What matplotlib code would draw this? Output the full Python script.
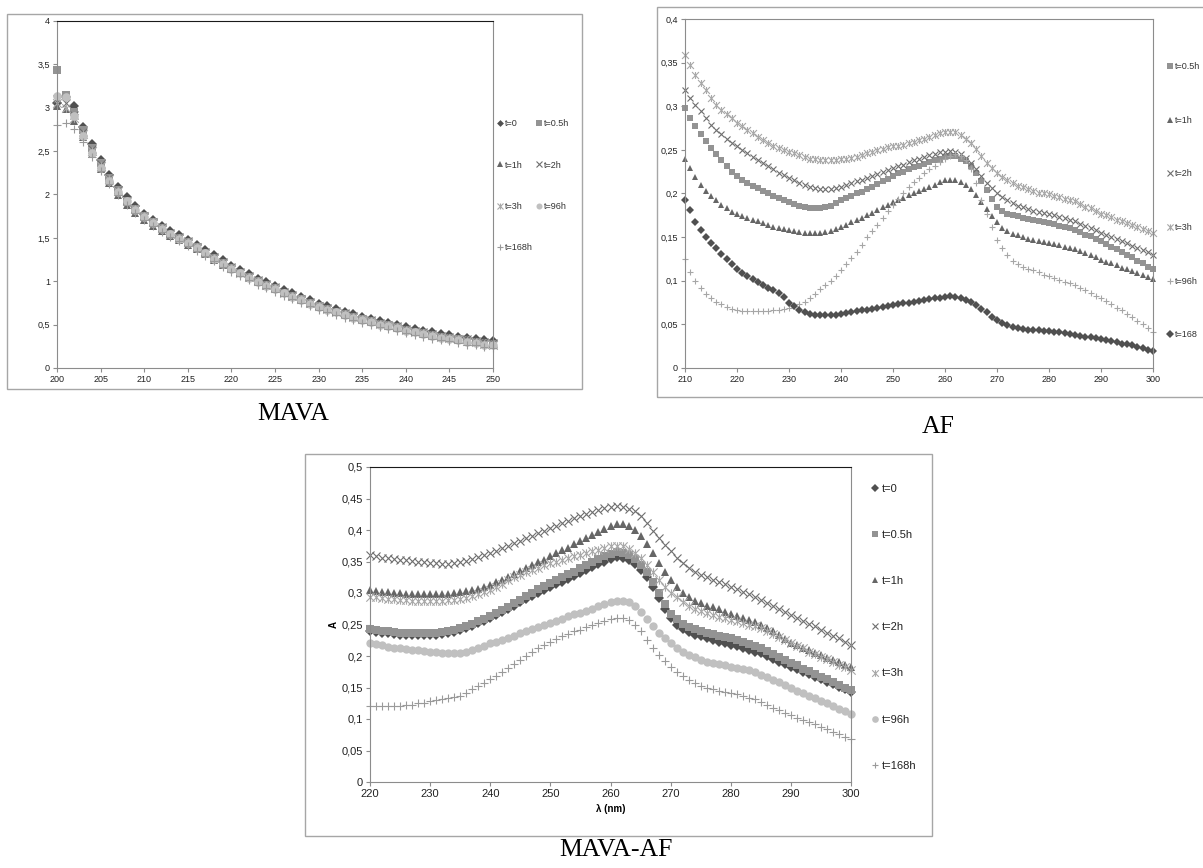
import numpy as np
import matplotlib
matplotlib.use("Agg")
import matplotlib.pyplot as plt
from matplotlib.path import Path
from matplotlib.patches import Rectangle
from matplotlib.ticker import FuncFormatter, MultipleLocator

# ---------------- data: MAVA (200-250 nm, 1 nm step) ----------------
mava_wl = np.arange(200, 251)
mava = {
    "t=0": [3.05, 3.12, 3.02, 2.78, 2.58, 2.40, 2.23, 2.09, 1.97, 1.87,
            1.78, 1.71, 1.64, 1.58, 1.53, 1.48, 1.42, 1.36, 1.30, 1.24,
            1.18, 1.13, 1.08, 1.03, 0.99, 0.95, 0.90, 0.86, 0.82, 0.78,
            0.74, 0.71, 0.68, 0.65, 0.62, 0.59, 0.57, 0.54, 0.52, 0.50,
            0.47, 0.45, 0.43, 0.41, 0.39, 0.38, 0.36, 0.35, 0.33, 0.32, 0.31],
    "t=0.5h": [3.44, 3.15, 2.95, 2.74, 2.54, 2.36, 2.19, 2.05, 1.93, 1.83,
               1.75, 1.68, 1.61, 1.55, 1.50, 1.45, 1.39, 1.33, 1.27, 1.21,
               1.15, 1.10, 1.05, 1.00, 0.96, 0.92, 0.87, 0.83, 0.79, 0.75,
               0.71, 0.68, 0.65, 0.62, 0.59, 0.56, 0.54, 0.51, 0.49, 0.47,
               0.44, 0.42, 0.40, 0.38, 0.36, 0.35, 0.33, 0.32, 0.30, 0.29, 0.28],
    "t=1h": [3.02, 2.98, 2.85, 2.66, 2.47, 2.29, 2.13, 1.99, 1.88, 1.79,
             1.71, 1.64, 1.58, 1.52, 1.47, 1.42, 1.37, 1.31, 1.25, 1.19,
             1.14, 1.09, 1.04, 0.99, 0.95, 0.91, 0.86, 0.82, 0.78, 0.74,
             0.71, 0.68, 0.65, 0.62, 0.59, 0.56, 0.54, 0.52, 0.49, 0.47,
             0.45, 0.43, 0.41, 0.39, 0.37, 0.36, 0.34, 0.33, 0.31, 0.30, 0.29],
    "t=2h": [3.10, 3.05, 2.92, 2.72, 2.52, 2.35, 2.19, 2.05, 1.93, 1.83,
             1.75, 1.68, 1.62, 1.56, 1.51, 1.46, 1.40, 1.34, 1.28, 1.22,
             1.16, 1.11, 1.06, 1.01, 0.97, 0.93, 0.88, 0.84, 0.80, 0.76,
             0.72, 0.69, 0.66, 0.63, 0.60, 0.57, 0.55, 0.52, 0.50, 0.48,
             0.45, 0.43, 0.41, 0.39, 0.37, 0.36, 0.34, 0.33, 0.31, 0.30, 0.29],
    "t=3h": [3.05, 3.00, 2.88, 2.70, 2.50, 2.33, 2.18, 2.04, 1.93, 1.83,
             1.75, 1.68, 1.61, 1.55, 1.50, 1.45, 1.39, 1.33, 1.27, 1.21,
             1.15, 1.10, 1.05, 1.00, 0.96, 0.92, 0.87, 0.83, 0.79, 0.75,
             0.71, 0.68, 0.65, 0.62, 0.59, 0.56, 0.54, 0.51, 0.49, 0.47,
             0.44, 0.42, 0.40, 0.38, 0.36, 0.35, 0.33, 0.31, 0.30, 0.28, 0.27],
    "t=96h": [3.14, 3.12, 2.90, 2.68, 2.48, 2.31, 2.16, 2.03, 1.92, 1.82,
              1.74, 1.67, 1.60, 1.54, 1.49, 1.44, 1.38, 1.32, 1.26, 1.20,
              1.14, 1.09, 1.04, 0.99, 0.95, 0.91, 0.86, 0.82, 0.78, 0.74,
              0.70, 0.67, 0.64, 0.61, 0.58, 0.55, 0.53, 0.50, 0.48, 0.46,
              0.43, 0.41, 0.39, 0.37, 0.35, 0.34, 0.32, 0.30, 0.29, 0.27, 0.26],
    "t=168h": [2.80, 2.82, 2.75, 2.60, 2.43, 2.27, 2.12, 1.99, 1.88, 1.79,
               1.71, 1.64, 1.57, 1.51, 1.46, 1.41, 1.35, 1.29, 1.23, 1.17,
               1.11, 1.06, 1.01, 0.96, 0.92, 0.88, 0.83, 0.79, 0.75, 0.71,
               0.67, 0.64, 0.61, 0.58, 0.55, 0.52, 0.50, 0.47, 0.45, 0.43,
               0.40, 0.38, 0.36, 0.34, 0.32, 0.31, 0.29, 0.27, 0.26, 0.24, 0.23],
}

# ---------------- data: AF (210-300 nm, 1 nm step) ----------------
af_wl = np.arange(210, 301)
af = {
    "t=0.5h": [.298, .287, .277, .268, .260, .252, .245, .238, .231, .225,
               .220, .216, .212, .209, .206, .203, .200, .197, .195, .192,
               .190, .188, .186, .184, .183, .183, .183, .184, .186, .189,
               .192, .195, .197, .200, .202, .205, .208, .211, .214, .217,
               .220, .223, .225, .228, .230, .232, .234, .236, .238, .240,
               .242, .243, .243, .240, .237, .232, .224, .214, .204, .194,
               .185, .180, .177, .175, .174, .172, .171, .170, .168, .167,
               .166, .165, .163, .162, .160, .158, .156, .153, .151, .148,
               .145, .142, .139, .136, .133, .130, .127, .123, .120, .116, .113],
    "t=1h": [.240, .229, .219, .210, .203, .197, .192, .187, .183, .179,
             .176, .174, .172, .170, .168, .166, .164, .162, .161, .159,
             .158, .157, .156, .155, .155, .155, .155, .156, .157, .159,
             .162, .164, .167, .170, .172, .175, .178, .181, .184, .187,
             .190, .193, .195, .198, .200, .203, .205, .208, .210, .213,
             .215, .216, .216, .213, .210, .205, .198, .190, .182, .174,
             .167, .161, .157, .154, .152, .150, .148, .147, .145, .144,
             .143, .142, .141, .139, .138, .136, .134, .132, .130, .127,
             .124, .122, .120, .118, .115, .113, .111, .109, .107, .104, .102],
    "t=2h": [.319, .310, .301, .294, .286, .279, .273, .268, .263, .258,
             .254, .250, .246, .242, .238, .235, .231, .228, .224, .221,
             .218, .215, .212, .210, .208, .206, .205, .205, .205, .206,
             .208, .210, .212, .214, .216, .218, .220, .222, .225, .227,
             .229, .231, .233, .236, .238, .240, .242, .244, .245, .247,
             .248, .249, .248, .245, .241, .235, .228, .220, .212, .206,
             .200, .196, .192, .189, .186, .184, .182, .180, .179, .178,
             .177, .175, .173, .172, .170, .168, .165, .163, .160, .158,
             .155, .153, .150, .148, .145, .143, .140, .138, .135, .133, .130],
    "t=3h": [.359, .347, .336, .327, .319, .310, .302, .296, .291, .286,
             .281, .277, .273, .269, .265, .261, .258, .255, .252, .250,
             .248, .246, .244, .242, .240, .239, .238, .238, .238, .238,
             .239, .240, .241, .242, .244, .246, .248, .250, .251, .253,
             .254, .255, .256, .258, .259, .261, .263, .265, .267, .269,
             .271, .271, .270, .267, .263, .258, .251, .243, .235, .229,
             .223, .219, .215, .212, .209, .207, .205, .203, .201, .200,
             .199, .197, .196, .194, .193, .191, .188, .185, .183, .180,
             .177, .175, .173, .170, .168, .166, .164, .162, .159, .157, .155],
    "t=96h": [.125, .110, .100, .092, .085, .080, .076, .073, .070, .068,
              .066, .065, .065, .065, .065, .065, .065, .066, .067, .068,
              .069, .071, .073, .076, .080, .085, .090, .095, .100, .106,
              .112, .119, .126, .133, .141, .150, .157, .164, .172, .180,
              .187, .194, .201, .207, .213, .218, .223, .228, .232, .236,
              .240, .243, .245, .243, .238, .228, .212, .193, .177, .162,
              .147, .137, .129, .123, .119, .116, .114, .112, .110, .107,
              .105, .103, .101, .099, .097, .095, .092, .089, .086, .083,
              .080, .077, .073, .069, .066, .062, .058, .054, .050, .046, .041],
    "t=168": [.193, .181, .167, .158, .150, .143, .137, .131, .125, .119,
              .113, .109, .106, .102, .098, .095, .092, .089, .086, .081,
              .075, .071, .067, .064, .062, .061, .061, .061, .061, .061,
              .062, .063, .064, .065, .066, .067, .068, .069, .070, .071,
              .072, .073, .074, .075, .076, .077, .078, .079, .080, .080,
              .081, .082, .081, .080, .078, .076, .072, .068, .064, .059,
              .055, .052, .049, .047, .046, .045, .044, .043, .043, .042,
              .042, .041, .041, .040, .039, .038, .037, .036, .035, .034,
              .033, .032, .031, .030, .028, .027, .026, .024, .023, .021, .020],
}

# ---------------- data: MAVA-AF (220-300 nm, 1 nm step) ----------------
mix_wl = np.arange(220, 301)
mix = {
    "t=0": [.240, .238, .237, .236, .235, .234, .234, .234, .234, .234,
            .234, .234, .235, .236, .238, .241, .244, .248, .252, .256,
            .260, .265, .270, .275, .280, .285, .290, .295, .300, .305,
            .310, .314, .318, .323, .327, .331, .336, .341, .346, .350,
            .354, .357, .356, .352, .346, .337, .325, .310, .292, .275,
            .260, .250, .243, .238, .234, .231, .228, .225, .222, .220,
            .218, .216, .213, .210, .207, .204, .200, .196, .191, .187,
            .183, .179, .175, .171, .167, .163, .159, .155, .151, .147, .143],
    "t=0.5h": [.243, .241, .240, .239, .238, .237, .237, .237, .237, .237,
               .237, .237, .238, .239, .241, .244, .247, .251, .255, .259,
               .263, .268, .273, .278, .284, .289, .295, .300, .306, .311,
               .316, .321, .325, .330, .334, .339, .344, .349, .354, .358,
               .362, .365, .364, .360, .354, .345, .333, .318, .300, .282,
               .267, .258, .251, .246, .243, .240, .237, .235, .232, .230,
               .228, .225, .222, .219, .216, .212, .208, .203, .198, .194,
               .189, .185, .180, .176, .172, .167, .163, .159, .154, .150, .146],
    "t=1h": [.304, .303, .302, .301, .300, .300, .299, .299, .298, .298,
             .298, .298, .298, .299, .300, .301, .303, .305, .307, .310,
             .313, .317, .321, .326, .330, .335, .340, .344, .349, .353,
             .358, .363, .368, .372, .377, .382, .387, .392, .397, .402,
             .406, .409, .409, .406, .400, .390, .378, .363, .348, .334,
             .321, .310, .300, .293, .288, .284, .280, .277, .274, .270,
             .266, .263, .260, .257, .254, .250, .245, .239, .233, .227,
             .221, .217, .213, .209, .205, .201, .197, .194, .190, .186, .182],
    "t=2h": [.360, .358, .356, .355, .354, .353, .352, .351, .350, .349,
             .348, .347, .346, .346, .347, .349, .351, .354, .357, .360,
             .363, .367, .371, .375, .379, .383, .387, .391, .395, .399,
             .403, .407, .411, .415, .419, .423, .426, .429, .432, .435,
             .437, .438, .437, .434, .430, .422, .411, .399, .387, .376,
             .366, .356, .347, .340, .334, .329, .325, .321, .317, .314,
             .310, .306, .302, .298, .294, .289, .284, .279, .275, .270,
             .265, .260, .256, .251, .247, .242, .237, .232, .228, .223, .218],
    "t=3h": [.294, .293, .292, .291, .290, .289, .289, .288, .288, .288,
             .288, .288, .288, .289, .289, .290, .292, .295, .298, .301,
             .305, .310, .315, .320, .325, .329, .333, .337, .340, .344,
             .347, .350, .353, .356, .359, .361, .364, .367, .369, .372,
             .374, .375, .374, .370, .363, .355, .344, .333, .321, .310,
             .300, .293, .286, .279, .275, .271, .268, .265, .262, .260,
             .257, .255, .252, .250, .247, .244, .240, .235, .230, .225,
             .220, .216, .212, .207, .203, .199, .195, .191, .186, .182, .178],
    "t=96h": [.221, .219, .217, .215, .213, .212, .211, .210, .209, .208,
              .207, .206, .205, .204, .204, .205, .207, .210, .213, .216,
              .220, .223, .226, .229, .232, .236, .239, .243, .246, .250,
              .253, .256, .259, .263, .266, .269, .272, .275, .279, .282,
              .285, .287, .287, .285, .279, .270, .259, .247, .236, .228,
              .220, .213, .207, .202, .198, .194, .191, .189, .187, .185,
              .183, .181, .179, .177, .174, .170, .166, .162, .158, .154,
              .149, .145, .141, .137, .133, .129, .125, .120, .116, .112, .108],
    "t=168h": [.120, .120, .120, .120, .120, .121, .122, .123, .125, .126,
               .128, .130, .131, .133, .135, .137, .142, .147, .152, .157,
               .163, .169, .175, .181, .188, .194, .200, .206, .212, .218,
               .223, .227, .231, .235, .239, .242, .246, .249, .252, .255,
               .258, .260, .260, .257, .250, .239, .226, .213, .202, .192,
               .183, .175, .168, .162, .157, .153, .150, .147, .145, .143,
               .141, .139, .137, .134, .131, .127, .123, .118, .114, .110,
               .106, .102, .099, .095, .092, .088, .084, .080, .076, .072, .068],
}

# excel-like "star" marker: an x with a vertical bar
star = Path([(-1, -1), (1, 1), (-1, 1), (1, -1), (0, -1), (0, 1)],
            [Path.MOVETO, Path.LINETO] * 3)

styles = {
    "t=0": dict(marker="D", color="#505050"),
    "t=0.5h": dict(marker="s", color="#939393"),
    "t=1h": dict(marker="^", color="#666666"),
    "t=2h": dict(marker="x", color="#6e6e6e"),
    "t=3h": dict(marker=star, color="#a8a8a8"),
    "t=96h": dict(marker="o", color="#c0c0c0"),
    "t=168h": dict(marker="+", color="#9a9a9a"),
}
styles["t=168"] = dict(marker="D", color="#505050")
af_styles = dict(styles)
af_styles["t=96h"] = dict(marker="+", color="#a6a6a6")

W, H = 1203, 868
fig = plt.figure(figsize=(W / 100, H / 100), dpi=100)
fig.patch.set_facecolor("white")
plt.rcParams["font.family"] = ["Liberation Sans", "DejaVu Sans"]


def px_axes(x0, y0, x1, y1):
    return fig.add_axes([x0 / W, 1 - y1 / H, (x1 - x0) / W, (y1 - y0) / H])


def frame(x0, y0, x1, y1):
    fig.patches.append(Rectangle((x0 / W, 1 - y1 / H), (x1 - x0) / W, (y1 - y0) / H,
                                 transform=fig.transFigure, fill=False,
                                 edgecolor="#a6a6a6", lw=1.0))


comma = FuncFormatter(lambda v, p: f"{v:g}".replace(".", ","))


def style_axes(ax, fs, top_col="#1a1a1a"):
    for s in ["left", "bottom", "right"]:
        ax.spines[s].set_color("#8c8c8c")
    ax.spines["top"].set_color(top_col)
    ax.tick_params(direction="out", length=3, width=0.8, color="#8c8c8c",
                   labelsize=fs, labelcolor="#222222", pad=2)
    ax.yaxis.set_major_formatter(comma)


def draw(ax, wl, data, sty, ms):
    handles = {}
    for name, vals in data.items():
        st = sty[name]
        m = st["marker"]
        line_marker = m in ("x", "+") or isinstance(m, Path)
        size = ms * 0.8 if m == "D" else ms
        h, = ax.plot(wl, vals, linestyle="none", marker=m, markersize=size,
                     color=st["color"], markeredgewidth=0.8 if line_marker else 0,
                     clip_on=False, label=name)
        handles[name] = h
    return handles


# ---------------- MAVA ----------------
frame(7, 14, 582, 389)
ax1 = px_axes(57, 21, 493, 368)
h1 = draw(ax1, mava_wl, mava, styles, 6.2)
ax1.set_xlim(200, 250)
ax1.set_ylim(0, 4)
ax1.xaxis.set_major_locator(MultipleLocator(5))
ax1.yaxis.set_major_locator(MultipleLocator(0.5))
style_axes(ax1, 6.5)
order = ["t=0", "t=1h", "t=3h", "t=168h", "t=0.5h", "t=2h", "t=96h"]
ax1.legend([h1[k] for k in order], order, ncol=2, loc="upper left",
           bbox_to_anchor=(496 / W, 1 - 119 / H), bbox_transform=fig.transFigure,
           frameon=False, fontsize=6.5, handlelength=0.8, handletextpad=0.15,
           columnspacing=0.3, labelspacing=3.6, borderaxespad=0, borderpad=0,
           markerscale=0.7, numpoints=1, labelcolor="#333333")
fig.text(293 / W, 1 - 414 / H, "MAVA", family="Liberation Serif", fontsize=18.5,
         ha="center", va="center")

# ---------------- AF ----------------
frame(657, 7, 1215, 397)
ax2 = px_axes(685, 19, 1153, 368)
h2 = draw(ax2, af_wl, af, af_styles, 5.0)
ax2.set_xlim(210, 300)
ax2.set_ylim(0, 0.4)
ax2.xaxis.set_major_locator(MultipleLocator(10))
ax2.yaxis.set_major_locator(MultipleLocator(0.05))
style_axes(ax2, 6.5, top_col="#8c8c8c")
af_order = ["t=0.5h", "t=1h", "t=2h", "t=3h", "t=96h", "t=168"]
ax2.legend([h2[k] for k in af_order], af_order, loc="upper left",
           bbox_to_anchor=(1166 / W, 1 - 62 / H), bbox_transform=fig.transFigure,
           frameon=False, fontsize=6.5, handlelength=0.8, handletextpad=0.2,
           labelspacing=4.95, borderaxespad=0, borderpad=0, markerscale=0.9,
           numpoints=1, labelcolor="#333333")
fig.text(938 / W, 1 - 427 / H, "AF", family="Liberation Serif", fontsize=18.5,
         ha="center", va="center")

# ---------------- MAVA-AF ----------------
frame(305, 454, 932, 836)
ax3 = px_axes(370, 467, 851, 782)
h3 = draw(ax3, mix_wl, mix, styles, 6.0)
ax3.set_xlim(220, 300)
ax3.set_ylim(0, 0.5)
ax3.xaxis.set_major_locator(MultipleLocator(10))
ax3.yaxis.set_major_locator(MultipleLocator(0.05))
style_axes(ax3, 8)
ax3.set_ylabel("A", fontsize=7, fontweight="bold", labelpad=2)
ax3.set_xlabel("λ (nm)", fontsize=7, fontweight="bold", labelpad=4)
mix_order = ["t=0", "t=0.5h", "t=1h", "t=2h", "t=3h", "t=96h", "t=168h"]
ax3.legend([h3[k] for k in mix_order], mix_order, loc="upper left",
           bbox_to_anchor=(871 / W, 1 - 484 / H), bbox_transform=fig.transFigure,
           frameon=False, fontsize=8, handlelength=0.8, handletextpad=0.2,
           labelspacing=3.25, borderaxespad=0, borderpad=0, markerscale=0.8,
           numpoints=1, labelcolor="#222222")
fig.text(616 / W, 1 - 850 / H, "MAVA-AF", family="Liberation Serif", fontsize=18.5,
         ha="center", va="center")

fig.savefig("out.png", dpi=100)
